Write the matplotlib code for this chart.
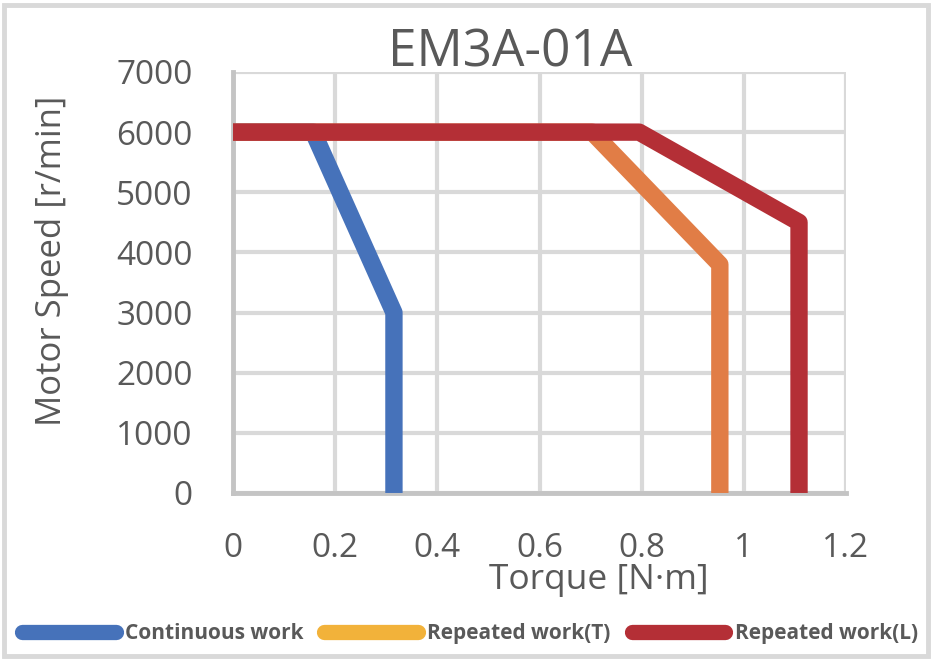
import matplotlib
matplotlib.use("Agg")
import matplotlib.pyplot as plt
from matplotlib.lines import Line2D
from matplotlib.patches import Rectangle

# speed-torque curves
cont_torque = [0, 0.157, 0.315, 0.315]
cont_speed = [6000, 6000, 3000, 0]
rep_t_torque = [0, 0.703, 0.953, 0.953]
rep_t_speed = [6000, 6000, 3800, 0]
rep_l_torque = [0, 0.795, 1.108, 1.108]
rep_l_speed = [6000, 6000, 4500, 0]

series_names = ["Continuous work", "Repeated work(T)", "Repeated work(L)"]
line_colors = ["#4672BA", "#E17D46", "#B42F36"]
legend_colors = ["#4672BA", "#F2B23A", "#B42F36"]

x_ticks = [0, 0.2, 0.4, 0.6, 0.8, 1.0, 1.2]
x_labels = ["0", "0.2", "0.4", "0.6", "0.8", "1", "1.2"]
y_ticks = [0, 1000, 2000, 3000, 4000, 5000, 6000, 7000]

plt.rcParams['font.family'] = ['Open Sans', 'DejaVu Sans']
gray = "#595959"

fig = plt.figure(figsize=(9.34, 6.61), dpi=100)
ax = fig.add_axes([0.2495, 0.2542, 0.6563, 0.6369])

curves = [(cont_torque, cont_speed), (rep_t_torque, rep_t_speed), (rep_l_torque, rep_l_speed)]
for i, (tx, sy) in enumerate(curves):
    ax.plot(tx, sy, color=line_colors[i], lw=12.5, solid_joinstyle='round',
            solid_capstyle='butt', zorder=3 + i)

ax.set_xlim(0, 1.2)
ax.set_ylim(0, 7000)
ax.set_xticks(x_ticks)
ax.set_xticklabels(x_labels)
ax.set_yticks(y_ticks)
ax.tick_params(axis='both', length=0, labelsize=24, colors=gray)
ax.tick_params(axis='x', pad=28)
ax.tick_params(axis='y', pad=29)
ax.grid(True, color="#D9D9D9", lw=3)
ax.set_axisbelow(True)
for s in ['top', 'right']:
    ax.spines[s].set_visible(False)
for s in ['left', 'bottom']:
    ax.spines[s].set_color("#C4C4C4")
    ax.spines[s].set_linewidth(3.5)

fig.text(0.546, 0.900, "EM3A-01A", fontsize=37, color=gray, ha='center', va='baseline')
ax.set_ylabel("Motor Speed [r/min]", fontsize=25, color=gray)
ax.yaxis.set_label_coords(-0.268, 0.552)
ax.set_xlabel("Torque [N·m]", fontsize=25.5, color=gray)
ax.xaxis.set_label_coords(0.596, -0.166)

handles = [Line2D([0], [0], color=c, lw=11, solid_capstyle='round') for c in legend_colors]
leg = fig.legend(handles, series_names, loc='lower center', bbox_to_anchor=(0.503, -0.003),
                 ncol=3, frameon=False, handlelength=4.5, handletextpad=0.45,
                 columnspacing=1.0,
                 prop={'size': 15, 'weight': 'bold'})
for t in leg.get_texts():
    t.set_color(gray)

fig.patches.append(Rectangle((0.004, 0.008), 0.99, 0.985, transform=fig.transFigure,
                             fill=False, edgecolor="#D9D9D9", lw=3.5))

fig.savefig("out.png", dpi=100)
